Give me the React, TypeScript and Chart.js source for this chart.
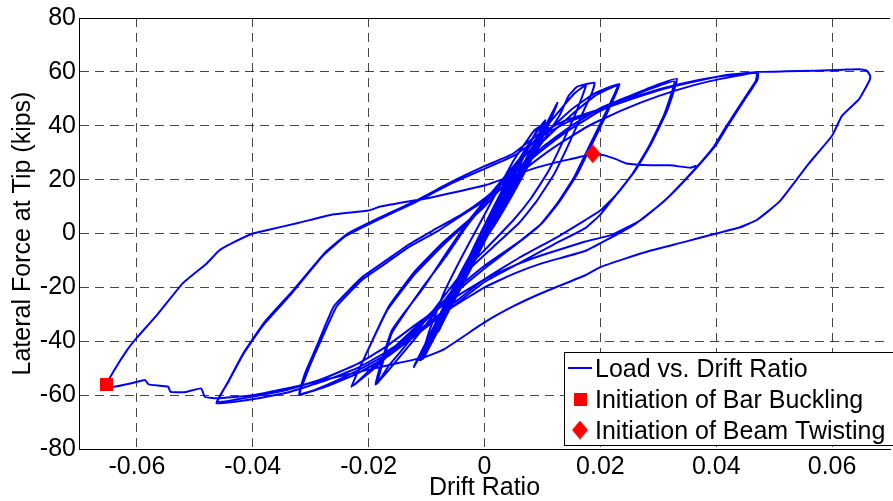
import React, { useEffect, useRef } from 'react';
import { Chart, registerables } from 'chart.js';

Chart.register(...registerables);

// ---------- axis ticks ----------
const xTickValues = [-0.06, -0.04, -0.02, 0, 0.02, 0.04, 0.06];
const xTickLabels = ['-0.06', '-0.04', '-0.02', '0', '0.02', '0.04', '0.06'];
const yTickValues = [-80, -60, -40, -20, 0, 20, 40, 60, 80];
const yTickLabels = ['-80', '-60', '-40', '-20', '0', '20', '40', '60', '80'];

// ---------- load history: [drift ratio, lateral force (kips)] ----------
const elasticLoops: [number, number][] = [
  [0, 0], [0.0015, 7], [0.003, 13], [0.0015, 6], [0, -1], [-0.0015, -7], [-0.003, -13], [-0.0015, -6], [0, 1],
  [0.0015, 7.5], [0.003, 13.5], [0.0015, 6.5], [0, -0.5], [-0.0015, -7], [-0.003, -13.5], [-0.0015, -6], [0, 1],
  [0.003, 14], [0.0055, 24], [0.003, 12], [0, -1], [-0.003, -13], [-0.0055, -25], [-0.003, -11], [0, 2],
  [0.003, 14], [0.0055, 24.5], [0.003, 12], [0, -1.5], [-0.003, -14], [-0.0056, -25.5], [-0.003, -11], [0, 2.5],
  [0.004, 19], [0.008, 34], [0.006, 25], [0.003, 12], [0, -1], [-0.004, -18], [-0.008, -36], [-0.006, -27], [-0.003, -13], [0, 2],
  [0.004, 19], [0.008, 34.5], [0.006, 25], [0.003, 12], [0, -2], [-0.004, -19], [-0.008, -36.5], [-0.006, -26], [-0.003, -12], [0, 3],
];

const loops010: [number, number][] = [
  [0.005, 24], [0.0085, 36], [0.0102, 41], [0.0085, 33], [0.005, 18], [0.002, 6], [0, -2], [-0.004, -19], [-0.008, -35], [-0.0105, -46], [-0.008, -35], [-0.004, -17], [0, 2],
  [0.005, 23], [0.0085, 36], [0.0103, 41.5], [0.0085, 32], [0.005, 17], [0.002, 5], [0, -3], [-0.004, -20], [-0.008, -36], [-0.0106, -46.5], [-0.008, -34], [-0.004, -15], [0, 3],
];

const loops010b: [number, number][] = [
  [0.002, 6], [0.005, 19], [0.0085, 33], [0.0105, 42], [0.009, 38], [0.006, 26], [0.003, 14], [0, 0], [-0.003, -12], [-0.006, -25], [-0.009, -39], [-0.0112, -47], [-0.009, -38], [-0.0065, -28], [-0.004, -19], [-0.001, -7], [0.001, 2],
  [0.003, 11], [0.006, 22], [0.009, 34], [0.0105, 41], [0.0085, 38], [0.005, 27], [0.002, 15], [-0.001, 3], [-0.004, -9], [-0.007, -22], [-0.0095, -36], [-0.011, -47], [-0.0095, -42], [-0.0075, -33], [-0.005, -22], [-0.002, -9], [0, 0],
];

const loops0125: [number, number][] = [
  [0.004, 16], [0.008, 30], [0.011, 42], [0.0126, 48.5], [0.011, 40], [0.008, 28], [0.005, 16], [0.002, 5], [-0.002, -8], [-0.006, -23], [-0.009, -36], [-0.0122, -49.6], [-0.01, -41], [-0.007, -28], [-0.004, -15], [0, 0],
  [0.004, 15], [0.008, 29], [0.011, 41], [0.0125, 48], [0.0108, 39], [0.008, 27], [0.005, 15], [0.002, 4], [-0.002, -9], [-0.006, -24], [-0.009, -37], [-0.0121, -49], [-0.01, -40], [-0.007, -27], [-0.004, -14], [0, 1],
];

const loops019: [number, number][] = [
  [0.005, 18], [0.01, 34], [0.013, 44], [0.0145, 51], [0.016, 54.5], [0.019, 56], [0.0185, 52], [0.017, 45], [0.0145, 33], [0.012, 22], [0.009, 12], [0.006, 4], [0.002, -4], [-0.003, -14], [-0.008, -28], [-0.012, -39], [-0.0155, -48], [-0.0188, -56],
  [-0.016, -36], [-0.0105, -20], [-0.0065, -7], [-0.003, 4], [0, 12], [0.005, 25], [0.01, 38], [0.0135, 47], [0.0155, 52], [0.0175, 55],
  [0.016, 46], [0.0135, 34], [0.011, 23], [0.008, 13], [0.005, 5], [0.001, -4], [-0.004, -15], [-0.009, -29], [-0.013, -40], [-0.0165, -49], [-0.0185, -55.5],
  [-0.016, -37], [-0.011, -21], [-0.0065, -8], [-0.003, 3], [0, 11],
];

const loops023: [number, number][] = [
  [0.005, 24], [0.01, 36], [0.015, 46], [0.019, 52], [0.0233, 55.5],
  [0.021, 44], [0.0185, 33], [0.016, 22], [0.013, 12], [0.01, 4], [0.006, -3], [0, -12], [-0.005, -21], [-0.01, -31], [-0.015, -41], [-0.019, -49], [-0.023, -57],
  [-0.0207, -46], [-0.0168, -28.5], [-0.012, -15], [-0.007, -4], [0, 10], [0.005, 22], [0.01, 34], [0.015, 44], [0.019, 51], [0.023, 55],
  [0.0205, 43], [0.018, 32], [0.0155, 21], [0.0125, 11], [0.0095, 3], [0.0055, -4], [0, -13], [-0.005, -22], [-0.01, -32], [-0.015, -42], [-0.019, -50], [-0.0228, -56.5],
  [-0.0205, -45], [-0.0165, -27], [-0.012, -14], [-0.007, -3], [0, 10],
];

const loops033: [number, number][] = [
  [0.005, 22], [0.01, 32], [0.015, 40], [0.02, 46.5], [0.025, 51], [0.029, 54.5], [0.0332, 57.4],
  [0.0315, 45.5], [0.0287, 33], [0.0259, 23], [0.023, 15], [0.02, 8.5], [0.0174, 5], [0.012, -2], [0.006, -9], [0, -17], [-0.006, -27], [-0.012, -37], [-0.017, -45], [-0.022, -51], [-0.027, -56], [-0.032, -60],
  [-0.031, -52], [-0.029, -42], [-0.026, -27], [-0.021, -16], [-0.017, -10], [-0.013, -4], [-0.009, 1], [-0.004, 7], [0, 13], [0.005, 22], [0.01, 31], [0.015, 39], [0.02, 45.5], [0.025, 50.5], [0.029, 54], [0.0328, 56.5],
  [0.031, 44], [0.0283, 32], [0.0255, 22], [0.0226, 14], [0.02, 7], [0.0174, 2], [0.012, -4], [0.006, -11], [0, -18], [-0.006, -28], [-0.012, -38], [-0.017, -46], [-0.022, -52], [-0.027, -56.5], [-0.0318, -59.5],
];

const loops047: [number, number][] = [
  [-0.0305, -51], [-0.0285, -41], [-0.0255, -27], [-0.021, -17], [-0.017, -11], [-0.013, -5], [-0.008, 1], [-0.003, 8], [0.002, 15], [0.007, 24], [0.012, 32], [0.018, 40], [0.024, 46], [0.03, 51], [0.036, 55], [0.041, 57.5], [0.0472, 59.8],
  [0.0471, 57], [0.045, 50], [0.042, 40], [0.04, 33], [0.036, 23], [0.0315, 13], [0.027, 5], [0.022, -0.5], [0.0174, -3], [0.01, -8], [0.005, -12], [0, -17], [-0.006, -25], [-0.012, -34], [-0.017, -42], [-0.022, -48.5], [-0.028, -54], [-0.034, -58], [-0.04, -60.5], [-0.046, -62.5],
  [-0.044, -54], [-0.0415, -44], [-0.038, -33], [-0.033, -21], [-0.0275, -7], [-0.0236, 0], [-0.018, 6], [-0.012, 12], [-0.0053, 19.6], [0, 25], [0.0049, 29.6], [0.0094, 37], [0.014, 42], [0.019, 45.5], [0.025, 50], [0.031, 54], [0.037, 57], [0.042, 58.7], [0.047, 59.6],
  [0.0468, 56.5], [0.0445, 49], [0.0415, 39], [0.0395, 32], [0.0355, 22], [0.031, 12], [0.026, 3.5], [0.021, -2.5], [0.0174, -6.5], [0.01, -11], [0.005, -15], [0, -20], [-0.006, -28], [-0.012, -37], [-0.017, -44], [-0.022, -50], [-0.028, -55], [-0.034, -59], [-0.04, -61.5], [-0.0463, -63],
];

const finalPush: [number, number][] = [
  [-0.0442, -55], [-0.0417, -45], [-0.0382, -34], [-0.0332, -22], [-0.0278, -8], [-0.024, -1], [-0.0185, 5], [-0.0125, 11], [-0.0058, 18.5], [0, 24], [0.0052, 29], [0.0098, 36], [0.0145, 41.5], [0.0195, 45.5], [0.0255, 50], [0.0315, 54], [0.0375, 57], [0.0425, 59], [0.0475, 60], [0.052, 60.2], [0.057, 60.4], [0.062, 60.8], [0.0647, 61], [0.066, 60.5], [0.0666, 58.5], [0.0665, 57],
];

const finalPull: [number, number][] = [
  [0.0647, 50], [0.0617, 43.7], [0.06, 36.3], [0.056, 26], [0.051, 12], [0.047, 5], [0.044, 2.2], [0.04, 0], [0.0344, -3.2], [0.0287, -6.3], [0.024, -9.5], [0.02, -12.5], [0.0174, -15.5], [0.01, -22], [0.005, -27], [0, -33], [-0.007, -43], [-0.0105, -46], [-0.0168, -49], [-0.025, -53], [-0.032, -56.5], [-0.04, -60], [-0.0463, -61.2], [-0.0483, -60.6], [-0.0489, -57.5], [-0.0515, -58.8], [-0.0542, -58.8], [-0.0546, -56.9], [-0.058, -56], [-0.0586, -54.4], [-0.0606, -55.4], [-0.064, -56.9], [-0.0652, -56],
];

const finalReturn: [number, number][] = [
  [-0.0639, -50.7], [-0.0617, -43.3], [-0.0599, -38.4], [-0.0566, -30.4], [-0.0521, -18.5], [-0.048, -11.2], [-0.0458, -6.3], [-0.0435, -3.5], [-0.04, 0], [-0.0378, 1.1], [-0.032, 4], [-0.0264, 7], [-0.02, 8.5], [-0.018, 10], [-0.0094, 13.3], [-0.0037, 16], [0.0003, 18], [0.0083, 24], [0.0125, 26.5], [0.0157, 28], [0.0187, 29.6], [0.0207, 29], [0.0228, 27.5], [0.0245, 26], [0.0287, 25.3], [0.032, 25.3], [0.0356, 24.4], [0.0366, 25.2],
];

// ---------- event markers ----------
const barBuckling = { drift: -0.0652, force: -56 };
const beamTwisting = { drift: 0.0187, force: 29.6 };

const legendLabels = ['Load vs. Drift Ratio', 'Initiation of Bar Buckling', 'Initiation of Beam Twisting'];

const FONT = "'Liberation Sans', Arial, Helvetica, sans-serif";
const BLUE = '#0000ff';
const RED = '#ff0000';

function makeSquare(): HTMLCanvasElement {
  const c = document.createElement('canvas');
  c.width = 13; c.height = 13;
  const g = c.getContext('2d')!;
  g.fillStyle = RED;
  g.fillRect(0, 0, 13, 13);
  return c;
}

function makeDiamond(): HTMLCanvasElement {
  const c = document.createElement('canvas');
  c.width = 16; c.height = 19;
  const g = c.getContext('2d')!;
  g.fillStyle = RED;
  g.beginPath();
  g.moveTo(8, 0); g.lineTo(16, 9.5); g.lineTo(8, 19); g.lineTo(0, 9.5);
  g.closePath();
  g.fill();
  return c;
}

function labelFor(values: number[], labels: string[], v: number): string {
  const i = values.findIndex((t) => Math.abs(t - v) < 1e-9);
  return i >= 0 ? labels[i] : '';
}

export default function App() {
  const ref = useRef<HTMLCanvasElement | null>(null);

  useEffect(() => {
    if (!ref.current) return;
    const square = makeSquare();
    const diamond = makeDiamond();

    const history = [
      ...elasticLoops, ...loops010, ...loops010b, ...loops0125, ...loops019, ...loops023,
      ...loops033, ...loops047, ...finalPush, ...finalPull, ...finalReturn,
    ].map(([x, y]) => ({ x, y }));

    const framePlugin = {
      id: 'frameAndLegend',
      afterDraw(chart: any) {
        const { ctx, chartArea } = chart;
        ctx.save();
        ctx.strokeStyle = '#000';
        ctx.lineWidth = 1;
        ctx.beginPath();
        ctx.moveTo(chartArea.left, Math.round(chartArea.top) + 0.5);
        ctx.lineTo(chartArea.right, Math.round(chartArea.top) + 0.5);
        ctx.stroke();

        const bx = 564.5, by = 352.5, bw = 340, bh = 93;
        ctx.fillStyle = '#fff';
        ctx.fillRect(bx, by, bw, bh);
        ctx.strokeRect(bx, by, bw, bh);

        ctx.strokeStyle = BLUE;
        ctx.lineWidth = 2;
        ctx.beginPath();
        ctx.moveTo(568, 368);
        ctx.lineTo(592, 368);
        ctx.stroke();
        ctx.drawImage(square, 580 - square.width / 2, 399.5 - square.height / 2);
        ctx.drawImage(diamond, 580 - diamond.width / 2, 430 - diamond.height / 2);

        ctx.fillStyle = '#000';
        ctx.font = `25px ${FONT}`;
        ctx.textBaseline = 'alphabetic';
        ctx.textAlign = 'left';
        ctx.fillText(legendLabels[0], 595, 376.5);
        ctx.fillText(legendLabels[1], 595, 407.5);
        ctx.fillText(legendLabels[2], 595, 438.5);
        ctx.restore();
      },
    };

    const tickFont = { family: FONT, size: 25, lineHeight: 1.2 };
    const titleFont = { family: FONT, size: 25, lineHeight: 1 };

    const chart = new Chart(ref.current, {
      type: 'scatter',
      data: {
        datasets: [
          {
            label: legendLabels[1],
            data: [{ x: barBuckling.drift, y: barBuckling.force }],
            pointStyle: square as any,
            pointRadius: 8,
            showLine: false,
            order: 0,
          },
          {
            label: legendLabels[2],
            data: [{ x: beamTwisting.drift, y: beamTwisting.force }],
            pointStyle: diamond as any,
            pointRadius: 8,
            showLine: false,
            order: 1,
          },
          {
            label: legendLabels[0],
            data: history,
            showLine: true,
            borderColor: BLUE,
            backgroundColor: BLUE,
            borderWidth: 2,
            pointRadius: 0,
            tension: 0.12,
            borderJoinStyle: 'round',
            order: 2,
          },
        ],
      },
      options: {
        responsive: false,
        animation: false,
        devicePixelRatio: 1,
        layout: { padding: { top: 17, left: 0, right: 0, bottom: 0 } },
        plugins: { legend: { display: false }, tooltip: { enabled: false } },
        scales: {
          x: {
            type: 'linear',
            min: -0.07,
            max: 0.07,
            afterBuildTicks: (s: any) => { s.ticks = xTickValues.map((v) => ({ value: v })); },
            afterFit: (s: any) => { s.height = 52; },
            ticks: {
              callback: (v: any) => labelFor(xTickValues, xTickLabels, Number(v)),
              font: tickFont, color: '#000', padding: 3, maxRotation: 0, autoSkip: false,
            },
            grid: { color: 'rgba(0,0,0,0.72)', lineWidth: 1, drawTicks: false },
            border: { display: true, color: '#000', width: 1, dash: [9, 6] },
            title: { display: true, text: 'Drift Ratio', font: titleFont, color: '#000', padding: { top: 0, bottom: 0 } },
          },
          y: {
            type: 'linear',
            min: -80,
            max: 80,
            afterBuildTicks: (s: any) => { s.ticks = yTickValues.map((v) => ({ value: v })); },
            afterFit: (s: any) => { s.width = 79; },
            ticks: {
              callback: (v: any) => labelFor(yTickValues, yTickLabels, Number(v)),
              font: tickFont, color: '#000', padding: 3, autoSkip: false,
            },
            grid: { color: 'rgba(0,0,0,0.72)', lineWidth: 1, drawTicks: false },
            border: { display: true, color: '#000', width: 1, dash: [9, 6] },
            title: { display: true, text: 'Lateral Force at Tip (kips)', font: titleFont, color: '#000', padding: { top: 11, bottom: 0 } },
          },
        },
      },
      plugins: [framePlugin],
    } as any);

    return () => chart.destroy();
  }, []);

  return (
    <div style={{ position: 'fixed', left: 0, top: 0, width: 893, height: 501, overflow: 'hidden', background: '#fff' }}>
      <canvas ref={ref} width={899} height={501} style={{ display: 'block' }} />
    </div>
  );
}
